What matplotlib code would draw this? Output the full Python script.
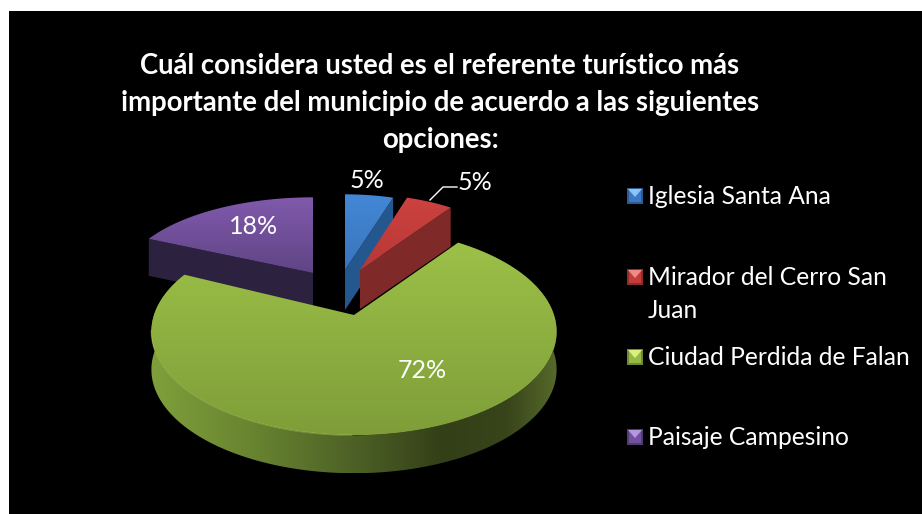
import numpy as np
import matplotlib
matplotlib.use("Agg")
import matplotlib.pyplot as plt
from matplotlib.colors import to_rgb, LinearSegmentedColormap
from matplotlib.patches import Polygon, Rectangle

# chart values
categories = ["Iglesia Santa Ana", "Mirador del Cerro San\nJuan",
              "Ciudad Perdida de Falan", "Paisaje Campesino"]
values = [5, 5, 72, 18]
labels = ["5%", "5%", "72%", "18%"]
title = ("Cuál considera usted es el referente turístico más\n"
         "importante del municipio de acuerdo a las siguientes\nopciones:")

# look of each slice: top gradient (back, front), side colour, apex, radii
top_cols = [("#4388d6", "#3a74bb"), ("#cc4240", "#b83835"),
            ("#9cc048", "#7f9e39"), ("#8159ac", "#5f4585")]
side_cols = ["#25578f", "#7f2a28", None, "#2d2140"]
apex = [(345, 270), (360, 270), (354, 315), (313, 273)]
radii = [(172, 84), (168, 84), (200, 101), (190, 84)]
persp = [0.11, 0.11, 0.16, 0.11]
thick = [40, 39, 38, 37]
draw_order = [3, 0, 2, 1]

plt.rcParams["font.family"] = ["Lato", "DejaVu Sans"]
fig = plt.figure(figsize=(9.22, 5.14), dpi=100, facecolor="white")
ax = fig.add_axes([0, 0, 1, 1])
ax.set_xlim(0, 922); ax.set_ylim(514, 0); ax.axis("off")
ax.add_patch(Rectangle((9, 11), 913, 503, fc="black", ec="none", zorder=0))


def project(i, deg):
    """angle clockwise from 12 o'clock -> screen position for slice i"""
    a = np.radians(deg)
    u, v = np.sin(a), -np.cos(a)
    d = 1 - persp[i] * v
    return apex[i][0] + radii[i][0] * u / d, apex[i][1] + radii[i][1] * v / d


def gradient_fill(poly, c0, c1, z):
    rgb0, rgb1 = np.array(to_rgb(c0)), np.array(to_rgb(c1))
    t = np.linspace(0, 1, 64)[:, None, None]
    img = rgb0[None, None, :] * (1 - t) + rgb1[None, None, :] * t
    im = ax.imshow(img, extent=(poly[:, 0].min(), poly[:, 0].max(), poly[:, 1].max(), poly[:, 1].min()),
                   aspect="auto", zorder=z, interpolation="bilinear")
    im.set_clip_path(Polygon(poly, transform=ax.transData))


# green outer wall shading, left to right across the pie
wall_stops = [(0.0, "#7f9f3b"), (0.25, "#688430"), (0.5, "#4d6126"),
              (0.72, "#333f17"), (0.88, "#38451a"), (1.0, "#56692a")]
wall_cmap = LinearSegmentedColormap.from_list("wall", wall_stops)


def wall_fill(arc, h, z):
    poly = np.vstack([arc, (arc + [0, h])[::-1]])
    img = wall_cmap(np.linspace(0, 1, 256))[None, :, :3]
    im = ax.imshow(img, extent=(arc[:, 0].min(), arc[:, 0].max(), arc[:, 1].max() + h, arc[:, 1].min()),
                   aspect="auto", zorder=z, interpolation="bilinear")
    im.set_clip_path(Polygon(poly, transform=ax.transData))


edges = np.cumsum([0] + values) * 3.6
z = 2
for i in draw_order:
    ang = np.linspace(edges[i], edges[i + 1], 200)
    arc = np.array([project(i, a) for a in ang])
    poly = np.vstack([apex[i], arc])
    if side_cols[i] is None:
        wall_fill(arc, thick[i], z)
    else:
        # radial cut face that looks at the viewer
        edge = arc[-1] if i in (0, 1) else arc[0]
        ax.add_patch(Polygon([apex[i], edge, edge + [0, thick[i]], np.array(apex[i]) + [0, thick[i]]],
                             fc=side_cols[i], ec="none", zorder=z))
    z += 1
    gradient_fill(poly, top_cols[i][0], top_cols[i][1], z)
    if side_cols[i] is None:
        # light rim on the front left edge only
        front = arc[(arc[:, 1] > apex[i][1] + 15) & (arc[:, 0] < apex[i][0])]
        ax.plot(front[:, 0], front[:, 1], color="#b4d264", lw=1.0, alpha=0.4, zorder=z + 1)
    z += 2
ax.set_xlim(0, 922); ax.set_ylim(514, 0)

# data labels
label_xy = [(367, 180), (475, 182), (422, 371), (254, 226)]
for s, (x, y) in zip(labels, label_xy):
    ax.text(x, y, s, color="white", fontsize=18, ha="center", va="center", zorder=40)
ax.plot([430, 443, 457], [200, 187, 187], color="white", lw=1, zorder=40)

ax.text(440, 103, title, color="white", fontsize=19.8, fontweight="bold", ha="center",
        va="center", linespacing=1.52, zorder=40)

# legend with bevelled keys
legend_y = [196, 277, 357, 437]
key_cols = ["#3c79c4", "#c43c39", "#96b946", "#7450a0"]
key_light = ["#8cc4f5", "#f08a88", "#d8f07f", "#b497e0"]
key_dark = ["#2d5a91", "#8f2d2b", "#6f8a34", "#523a72"]
for name, y, c, cl, cd in zip(categories, legend_y, key_cols, key_light, key_dark):
    ax.add_patch(Rectangle((627, y - 8), 16, 16, fc=cd, ec="none", zorder=40))
    ax.add_patch(Rectangle((629, y - 6), 12, 12, fc=c, ec="none", zorder=41))
    ax.add_patch(Polygon([(628, y - 7), (642, y - 7), (635, y + 1)], fc=cl, ec="none", zorder=42))
    ax.text(648, y - 11, name, color="white", fontsize=17.7, ha="left", va="top",
            linespacing=1.55, zorder=40)

fig.savefig("out.png", dpi=100, facecolor="white")
